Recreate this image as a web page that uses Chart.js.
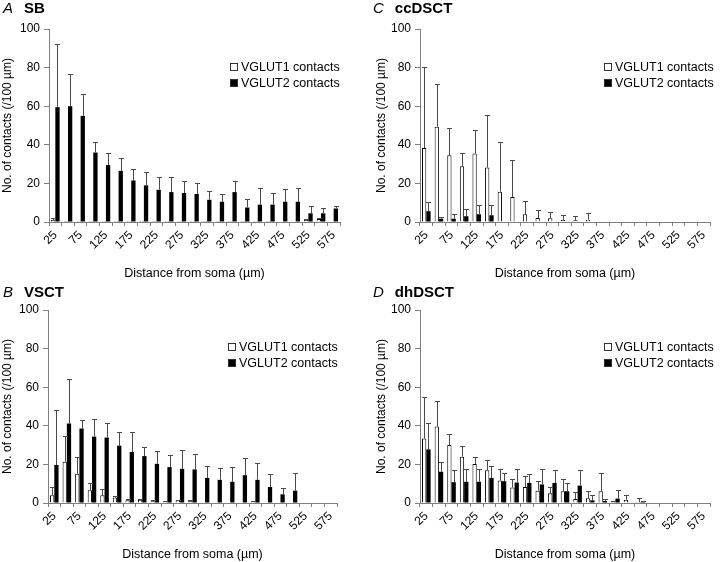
<!DOCTYPE html>
<html>
<head>
<meta charset="utf-8">
<script src="https://cdn.jsdelivr.net/npm/chart.js@4.4.1/dist/chart.umd.min.js"></script>
<style>
  body { margin: 0; background: #fff; font-family: "Liberation Sans", Arial, sans-serif; color: #000; }
  #wrap { position: relative; width: 720px; height: 562px; }
  .panel { position: absolute; width: 360px; height: 281px; }
  .panel canvas { position: absolute; left: 0; top: 0; }
  .ttl { position: absolute; font-size: 15px; line-height: 16px; font-weight: bold; white-space: nowrap; }
  .ttl i { font-weight: normal; margin-right: 11px; }
  .lg { position: absolute; font-size: 12.5px; line-height: 16px; white-space: nowrap; }
  .sw { display: inline-block; width: 6px; height: 6px; border: 1px solid #333; margin-right: 3px; vertical-align: 0px; }
</style>
</head>
<body>
<div id="wrap"></div>
<script>
// distance from soma (µm), one bar pair per bin
const distances = ['25', '50', '75', '100', '125', '150', '175', '200', '225', '250', '275', '300',
    '325', '350', '375', '400', '425', '450', '475', '500', '525', '550', '575'];
// only every second bin is labelled
const tickLabels = distances.map((d, i) => (i % 2 === 0 ? d : ''));

// A  SB
const sbV1 = [1, 0.5, 0.5, 0.5, 0.5, 0.5, 0.5, 0.5, 0.5, 0.5, 0.5, 0.5, 0.5, 0.5, 0.5, 0.5, 0.5, 0.5, 0.3, 0.3, 1, 1.5, 0.2];
const sbV1Err = [1, 0, 0, 0, 0, 0, 0, 0, 0, 0, 0, 0, 0, 0, 0, 0, 0, 0, 0, 0, 0.5, 0.5, 0];
const sbV2 = [59.5, 60, 55, 36, 29.5, 26.5, 21.5, 19, 16.7, 15.5, 15, 14.5, 11.5, 10.5, 15.5, 7.5, 9, 9, 10.5, 10.5, 4.5, 4.5, 7];
const sbV2Err = [32.5, 16.5, 11.5, 5.7, 6.2, 6.5, 5.8, 6.8, 6.5, 7.7, 6, 5.8, 4.8, 4.1, 5.5, 4.5, 8.7, 6, 6.7, 7.2, 3.9, 2.7, 1.5];

// B  VSCT
const vsctV1 = [4, 21.4, 15.1, 6.6, 4, 2.8, 1.4, 1.7, 0.9, 0.7, 1.4, 1, 0.3, 0.2, 0, 0.3, 0.8, 0, 0, 0, 0, 0, 0];
const vsctV1Err = [4.2, 13.4, 8.7, 3.8, 3, 0.7, 0.9, 0.2, 0.5, 0.3, 0.3, 0.7, 0, 0, 0, 0, 0.4, 0, 0, 0, 0, 0, 0];
const vsctV2 = [19.7, 41.2, 38.6, 34.4, 33.9, 29.7, 26.4, 24.3, 20.3, 18.6, 17.7, 17.4, 13, 12, 11, 14.4, 12, 8.3, 4.5, 6.4, 0, 0, 0];
const vsctV2Err = [28.6, 23.2, 4.5, 9.1, 7.5, 7, 10.3, 4.7, 6.7, 6.1, 9.8, 8.2, 6.1, 6.3, 7.6, 8.9, 8.9, 6.8, 3.1, 8.9, 0, 0, 0];

// C  ccDSCT
const ccV1 = [38.3, 49.4, 34.6, 28.9, 35.5, 28.2, 15.7, 13, 4, 2.1, 1.9, 1, 0.9, 1.2, 0, 0, 0, 0, 0, 0, 0, 0, 0];
const ccV1Err = [42, 22.3, 14.1, 7.1, 12.3, 27.3, 25.5, 19.3, 7, 4.3, 3.5, 2.7, 2.2, 3.5, 0, 0, 0, 0, 0, 0, 0, 0, 0];
const ccV2 = [5.6, 1.7, 1.7, 3, 4, 3.5, 0, 0, 0, 0, 0, 0, 0, 0, 0, 0, 0, 0, 0, 0, 0, 0, 0];
const ccV2Err = [4.8, 0.9, 2.6, 3.6, 5, 5.5, 0, 0, 0, 0, 0, 0, 0, 0, 0, 0, 0, 0, 0, 0, 0, 0, 0];

// D  dhDSCT
const dhV1 = [33.4, 39.7, 30, 24, 20.2, 17, 11.7, 8, 8.3, 6.4, 5, 6.1, 2.1, 2.4, 6.1, 0.5, 1.7, 0.5, 0, 0, 0, 0, 0];
const dhV1Err = [21.7, 13, 5.7, 5.6, 3.6, 5.3, 6, 4.2, 5.6, 4.9, 3.2, 6.4, 3.5, 3.7, 9.2, 0.5, 2.6, 1.9, 0, 0, 0, 0, 0];
const dhV2 = [27.8, 16.2, 10.8, 11, 11, 13, 11.3, 10.6, 10.4, 9.6, 10.4, 6.1, 9, 1.4, 1, 2.3, 0, 0.5, 0, 0, 0, 0, 0];
const dhV2Err = [13.9, 5.2, 6.2, 6.4, 6.4, 6.1, 4, 6.8, 4.4, 8.1, 6.6, 4.3, 7.9, 2.6, 1.3, 4.3, 0, 0.7, 0, 0, 0, 0, 0];

const panels = [
    { letter: 'A', name: 'SB', left: 0, top: 0, v1: sbV1, e1: sbV1Err, v2: sbV2, e2: sbV2Err, padLeft: 0, yWidth: 49, padRight: 20, ttlX: 3, ttlY: 0, lgX: 230, lgY: 59 },
    { letter: 'B', name: 'VSCT', left: 0, top: 281, v1: vsctV1, e1: vsctV1Err, v2: vsctV2, e2: vsctV2Err, padLeft: 0, yWidth: 48, padRight: 23, ttlX: 3, ttlY: 3, lgX: 228, lgY: 58 },
    { letter: 'C', name: 'ccDSCT', left: 360, top: 0, v1: ccV1, e1: ccV1Err, v2: ccV2, e2: ccV2Err, padLeft: 14, yWidth: 46, padRight: 10, ttlX: 13, ttlY: 0, lgX: 244, lgY: 59 },
    { letter: 'D', name: 'dhDSCT', left: 360, top: 281, v1: dhV1, e1: dhV1Err, v2: dhV2, e2: dhV2Err, padLeft: 14, yWidth: 46, padRight: 10, ttlX: 13, ttlY: 3, lgX: 244, lgY: 58 }
];

// upper error bars with a small cap
const errorBars = {
    id: 'errorBars',
    afterDatasetsDraw(chart) {
        const ctx = chart.ctx;
        const yScale = chart.scales.y;
        ctx.save();
        ctx.strokeStyle = '#4a4a4a';
        ctx.lineWidth = 1;
        chart.data.datasets.forEach((ds, di) => {
            const meta = chart.getDatasetMeta(di);
            meta.data.forEach((bar, i) => {
                const err = ds.errors[i];
                if (!err) return;
                const x = Math.round(bar.x) + 0.5;
                const top = Math.round(yScale.getPixelForValue(ds.data[i] + err)) + 0.5;
                ctx.beginPath();
                ctx.moveTo(x, bar.y);
                ctx.lineTo(x, top);
                ctx.moveTo(x - 2.5, top);
                ctx.lineTo(x + 2.5, top);
                ctx.stroke();
            });
        });
        ctx.restore();
    }
};

const wrap = document.getElementById('wrap');

panels.forEach((p) => {
    const div = document.createElement('div');
    div.className = 'panel';
    div.style.left = p.left + 'px';
    div.style.top = p.top + 'px';
    div.innerHTML =
        '<canvas width="360" height="281"></canvas>' +
        '<div class="ttl" style="left:' + p.ttlX + 'px;top:' + p.ttlY + 'px"><i>' + p.letter + '</i>' + p.name + '</div>' +
        '<div class="lg" style="left:' + p.lgX + 'px;top:' + p.lgY + 'px">' +
        '<div><span class="sw" style="background:#fff"></span>VGLUT1 contacts</div>' +
        '<div><span class="sw" style="background:#000"></span>VGLUT2 contacts</div></div>';
    wrap.appendChild(div);

    new Chart(div.querySelector('canvas'), {
        type: 'bar',
        data: {
            labels: distances,
            datasets: [
                { label: 'VGLUT1 contacts', data: p.v1, errors: p.e1, backgroundColor: '#fff', borderColor: '#000', borderWidth: 1 },
                { label: 'VGLUT2 contacts', data: p.v2, errors: p.e2, backgroundColor: '#000', borderColor: '#000', borderWidth: 0 }
            ]
        },
        options: {
            responsive: false,
            animation: false,
            layout: { padding: { left: p.padLeft, right: p.padRight, top: 29, bottom: 0 } },
            datasets: { bar: { categoryPercentage: 0.68, barPercentage: 1 } },
            plugins: { legend: { display: false }, tooltip: { enabled: false } },
            scales: {
                x: {
                    grid: { offset: true, drawOnChartArea: false, tickLength: 4, color: '#808080' },
                    border: { color: '#808080' },
                    ticks: {
                        autoSkip: false, maxRotation: 45, minRotation: 45, padding: 2,
                        color: '#000', font: { family: '"Liberation Sans", Arial', size: 12 },
                        callback: (v, i) => tickLabels[i]
                    },
                    title: { display: true, text: 'Distance from soma (µm)', color: '#000', padding: 0, font: { family: '"Liberation Sans", Arial', size: 12.5 } },
                    afterFit: (scale) => { scale.height = 59; }
                },
                y: {
                    min: 0, max: 100,
                    grid: { drawOnChartArea: false, tickLength: 5, color: '#808080' },
                    border: { color: '#808080' },
                    ticks: { stepSize: 20, padding: 4, color: '#000', font: { family: '"Liberation Sans", Arial', size: 12 } },
                    title: { display: true, text: 'No. of contacts (/100 µm)', color: '#000', padding: 0, font: { family: '"Liberation Sans", Arial', size: 12 } },
                    afterFit: (scale) => { scale.width = p.yWidth; }
                }
            }
        },
        plugins: [errorBars]
    });
});
</script>
</body>
</html>
